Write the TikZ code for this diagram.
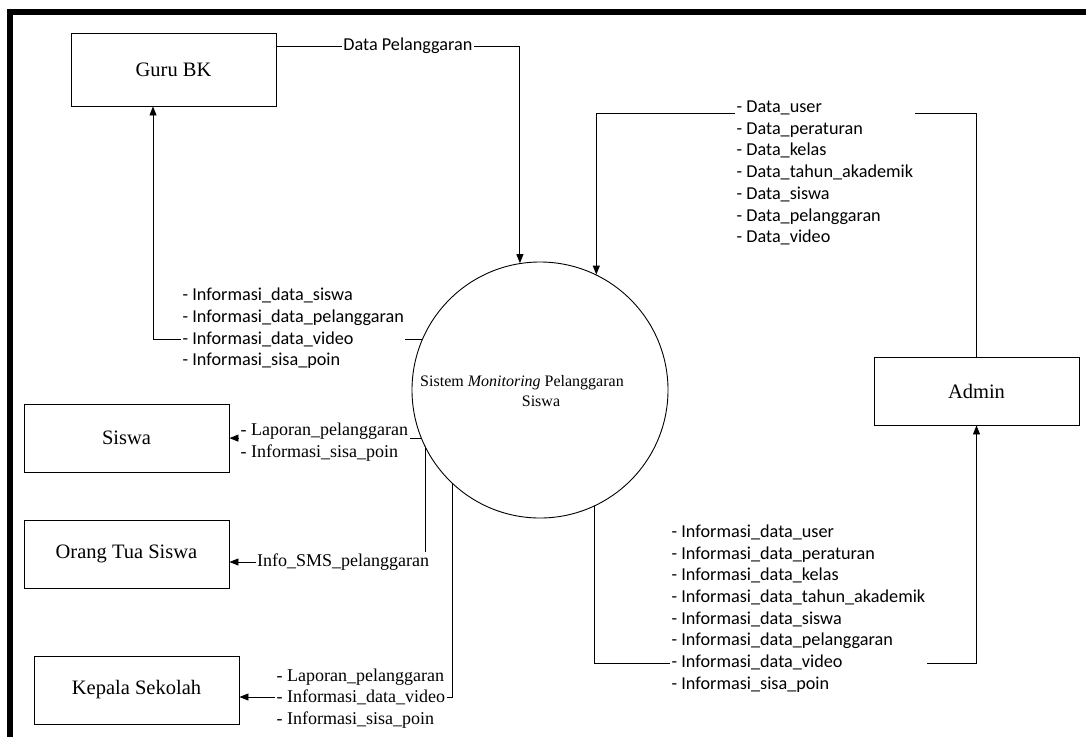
\documentclass[tikz,border=0pt]{standalone}
\usepackage{fontspec}
\setmainfont{Liberation Serif}
\newfontfamily\calib{Carlito}
\usetikzlibrary{arrows.meta}
\begin{document}
\begin{tikzpicture}[x=1pt,y=-1pt,
  ent/.style={draw, line width=0.9pt, minimum width=205pt, minimum height=68pt, inner sep=0pt, font=\fontsize{20.5}{24}\selectfont},
  flow/.style={line width=0.9pt, -{Triangle[length=9pt,width=7pt]}},
  slab/.style={fill=white, inner sep=1.5pt, align=left, font=\calib\fontsize{18.2}{21.7}\selectfont},
  tlab/.style={fill=white, inner sep=1.5pt, align=left, font=\fontsize{18}{21.6}\selectfont},
]
\useasboundingbox (0,0) rectangle (1086,737);
\fill (7,9) rectangle (1086,15);
\fill (7,9) rectangle (13,737);

\node[ent, minimum height=73pt] (guru) at (173.5,69.5) {Guru BK};
\node[ent] (siswa) at (126.5,438) {Siswa};
\node[ent] (ortu) at (126.5,554) {Orang Tua Siswa};
\node[ent] (kepala) at (136.5,690) {Kepala Sekolah};
\node[ent] (admin) at (976.5,391) {Admin};
\node[draw, circle, line width=0.9pt, minimum size=256pt, inner sep=0pt] (circ) at (540,390) {};
\node[font=\fontsize{16}{20}\selectfont, align=center] (ctext) at (522,391.5) {Sistem \textit{Monitoring} Pelanggaran\\\hspace*{38pt}Siswa};

% Guru BK -> system
\draw[flow] ([yshift=23.5pt]guru.east) -| (circ.99.9) node[slab, pos=0.27] (l1) {Data Pelanggaran};

% Admin -> system
\draw[flow] (admin.north) -- (admin.north |- 0,113) -| (circ.64.5);
\node[slab, anchor=west] (l2) at (735,173) {- Data\_user\\- Data\_peraturan\\- Data\_kelas\\- Data\_tahun\_akademik\\- Data\_siswa\\- Data\_pelanggaran\\- Data\_video};

% system -> Guru BK
\draw[flow] (circ.157) -| ([xshift=-20.5pt]guru.south);
\node[slab, anchor=west] (l3) at (181,328.5) {- Informasi\_data\_siswa\\- Informasi\_data\_pelanggaran\\- Informasi\_data\_video\\- Informasi\_sisa\_poin};

% system -> Siswa
\draw[flow] (circ.202) -- (circ.202 -| siswa.east);
\node[tlab, anchor=west] (l4) at (239,442) {- Laporan\_pelanggaran\\- Informasi\_sisa\_poin};

% system -> Orang Tua Siswa
\draw[flow] (circ.207.1) |- ([yshift=-8pt]ortu.east) node[tlab, pos=0.71] (l5) {Info\_SMS\_pelanggaran};

% system -> Kepala Sekolah
\draw[flow] (circ.227.8) |- ([yshift=-7pt]kepala.east);
\node[tlab, anchor=west] (l6) at (275,698.5) {- Laporan\_pelanggaran\\- Informasi\_data\_video\\- Informasi\_sisa\_poin};

% system -> Admin
\draw[flow] (circ.295.5) |- (admin.south |- 0,663) -- (admin.south);
\node[slab, anchor=west] (l7) at (670,608.5) {- Informasi\_data\_user\\- Informasi\_data\_peraturan\\- Informasi\_data\_kelas\\- Informasi\_data\_tahun\_akademik\\- Informasi\_data\_siswa\\- Informasi\_data\_pelanggaran\\- Informasi\_data\_video\\- Informasi\_sisa\_poin};
\end{tikzpicture}
\end{document}
